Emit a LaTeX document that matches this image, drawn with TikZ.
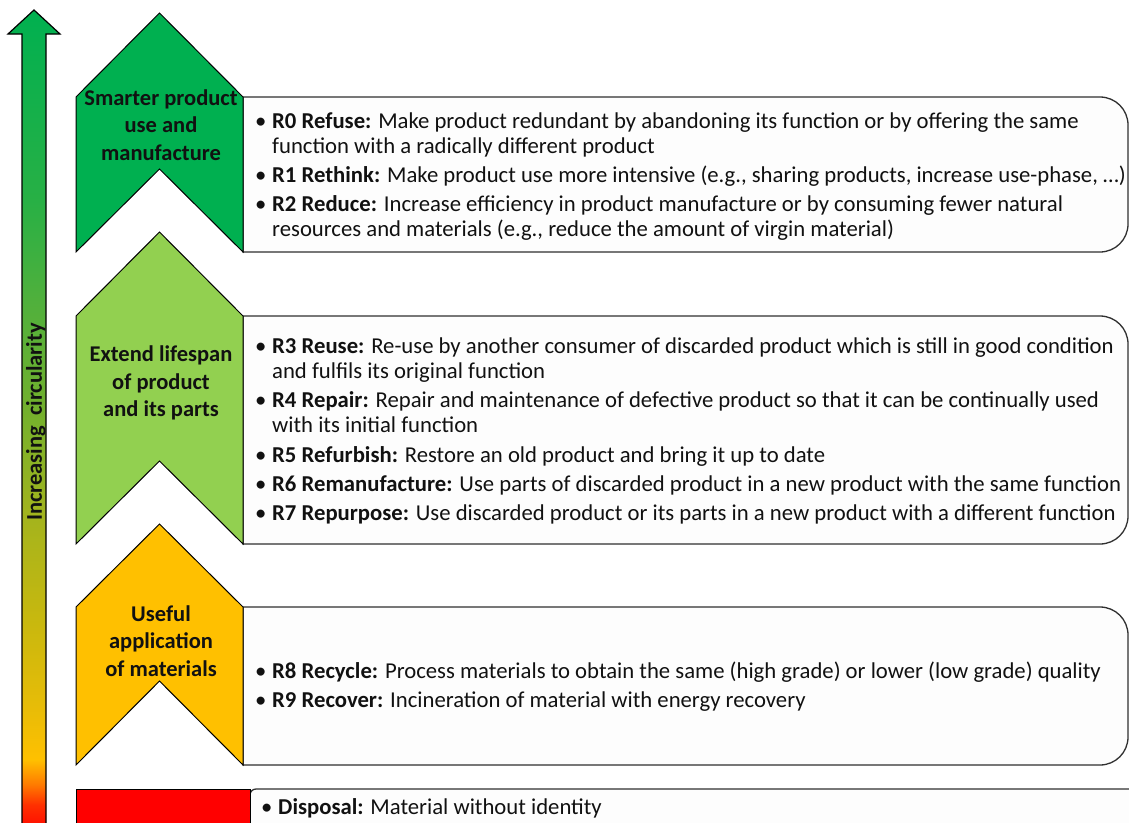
\documentclass[tikz,border=0pt]{standalone}
\usepackage{fontspec}
\setmainfont{Carlito}
\definecolor{chevA}{HTML}{00B050}
\definecolor{chevB}{HTML}{92D050}
\definecolor{chevC}{HTML}{FFC000}
\definecolor{chevD}{HTML}{FF0000}
\definecolor{boxfill}{HTML}{FDFDFD}
\definecolor{boxline}{HTML}{303030}
\definecolor{txt}{HTML}{111111}
\definecolor{g00}{HTML}{FF0000}
\definecolor{g01}{HTML}{FF3000}
\definecolor{g02}{HTML}{FF7A00}
\definecolor{g03}{HTML}{FFC000}
\definecolor{g04}{HTML}{E6BC08}
\definecolor{g05}{HTML}{C9B80E}
\definecolor{g06}{HTML}{A6B41C}
\definecolor{g07}{HTML}{70B02E}
\definecolor{g08}{HTML}{50B03C}
\definecolor{g09}{HTML}{28B045}
\definecolor{g10}{HTML}{00B050}
\pgfdeclareverticalshading{circgrad}{100bp}{color(0bp)=(g00); color(25bp)=(g00); color(26.83bp)=(g01); color(28.05bp)=(g02); color(29.57bp)=(g03); color(32.93bp)=(g04); color(37.8bp)=(g05); color(43.9bp)=(g06); color(51.22bp)=(g07); color(57.32bp)=(g08); color(63.41bp)=(g09); color(75bp)=(g10); color(100bp)=(g10)}
\newcommand{\itbul}{\makebox[17pt][l]{•}}
\newcommand{\itind}{\hspace*{17pt}}
\begin{document}
\begin{tikzpicture}[x=1pt,y=-1pt,
  body/.style={anchor=base west, align=left, inner sep=0pt, text=txt, font=\fontsize{22.7}{25}\selectfont},
  lab/.style={align=center, inner sep=0pt, text=txt, font=\fontsize{22.5}{27.5}\selectfont\bfseries},
  chev/.style={draw=black, line width=1pt, line join=miter},
  rbox/.style={draw=boxline, fill=boxfill, line width=1.3pt}]
\useasboundingbox (0,0) rectangle (1129,822);
\fill[white] (0,0) rectangle (1129,822);
% big arrow
\draw[shading=circgrad, draw=black, line width=1.2pt, line join=miter]
  (22,835) -- (22,34) -- (8,34) -- (34,10) -- (60,34) -- (46,34) -- (46,835) -- cycle;
\node[rotate=90, inner sep=0pt, text=txt, font=\fontsize{22.5}{27}\selectfont\bfseries] (axis) at (36,422) {Increasing\ \ circularity};
% boxes
\draw[rbox] (243,97) -- (1100,97) arc[start angle=-90, end angle=0, radius=28] -- (1128,224) arc[start angle=0, end angle=90, radius=28] -- (243,252) -- cycle;
\draw[rbox] (243,316) -- (1100,316) arc[start angle=-90, end angle=0, radius=28] -- (1128,516) arc[start angle=0, end angle=90, radius=28] -- (243,544) -- cycle;
\draw[rbox] (243,607) -- (1100,607) arc[start angle=-90, end angle=0, radius=28] -- (1128,737) arc[start angle=0, end angle=90, radius=28] -- (243,765) -- cycle;
\draw[rbox] (250,840) -- (250,795) arc[start angle=180, end angle=270, radius=6] -- (1140,789) -- (1140,840);
% chevrons
\draw[chev, fill=chevA] (76,97) -- (159.5,13) -- (243,97) -- (243,252) -- (159.5,169) -- (76,252) -- cycle;
\draw[chev, fill=chevB] (76,316) -- (159.5,232) -- (243,316) -- (243,544) -- (159.5,461) -- (76,544) -- cycle;
\draw[chev, fill=chevC] (76,607) -- (159.5,524) -- (243,607) -- (243,765) -- (159.5,681) -- (76,765) -- cycle;
\draw[chev, fill=chevD] (76,789) rectangle (250,835);
% chevron labels
\node[lab] (labA) at (161,125) {Smarter product\\use and\\manufacture};
\node[lab] (labB) at (161,383) {Extend lifespan\\of product\\and its parts};
\node[lab] (labC) at (161,641) {Useful\\application\\of materials};
% box texts (anchor = baseline of last line)
\node[body] (r0) at (255,153) {\itbul\textbf{R0 Refuse:} Make product redundant by abandoning its function or by offering the same\\\itind function with a radically different product};
\node[body] (r1) at (255,182) {\itbul\textbf{R1 Rethink:} Make product use more intensive (e.g., sharing products, increase use-phase, …)};
\node[body] (r2) at (255,236) {\itbul\textbf{R2 Reduce:} Increase efficiency in product manufacture or by consuming fewer natural\\\itind resources and materials (e.g., reduce the amount of virgin material)};
\node[body] (r3) at (255,378) {\itbul\textbf{R3 Reuse:} Re-use by another consumer of discarded product which is still in good condition\\\itind and fulfils its original function};
\node[body] (r4) at (255,432) {\itbul\textbf{R4 Repair:} Repair and maintenance of defective product so that it can be continually used\\\itind with its initial function};
\node[body] (r5) at (255,462) {\itbul\textbf{R5 Refurbish:} Restore an old product and bring it up to date};
\node[body] (r6) at (255,491) {\itbul\textbf{R6 Remanufacture:} Use parts of discarded product in a new product with the same function};
\node[body] (r7) at (255,520) {\itbul\textbf{R7 Repurpose:} Use discarded product or its parts in a new product with a different function};
\node[body] (r8) at (255,678) {\itbul\textbf{R8 Recycle:} Process materials to obtain the same (high grade) or lower (low grade) quality};
\node[body] (r9) at (255,707) {\itbul\textbf{R9 Recover:} Incineration of material with energy recovery};
\node[body] (disp) at (261,814) {\itbul\textbf{Disposal:} Material without identity};
\end{tikzpicture}
\end{document}
